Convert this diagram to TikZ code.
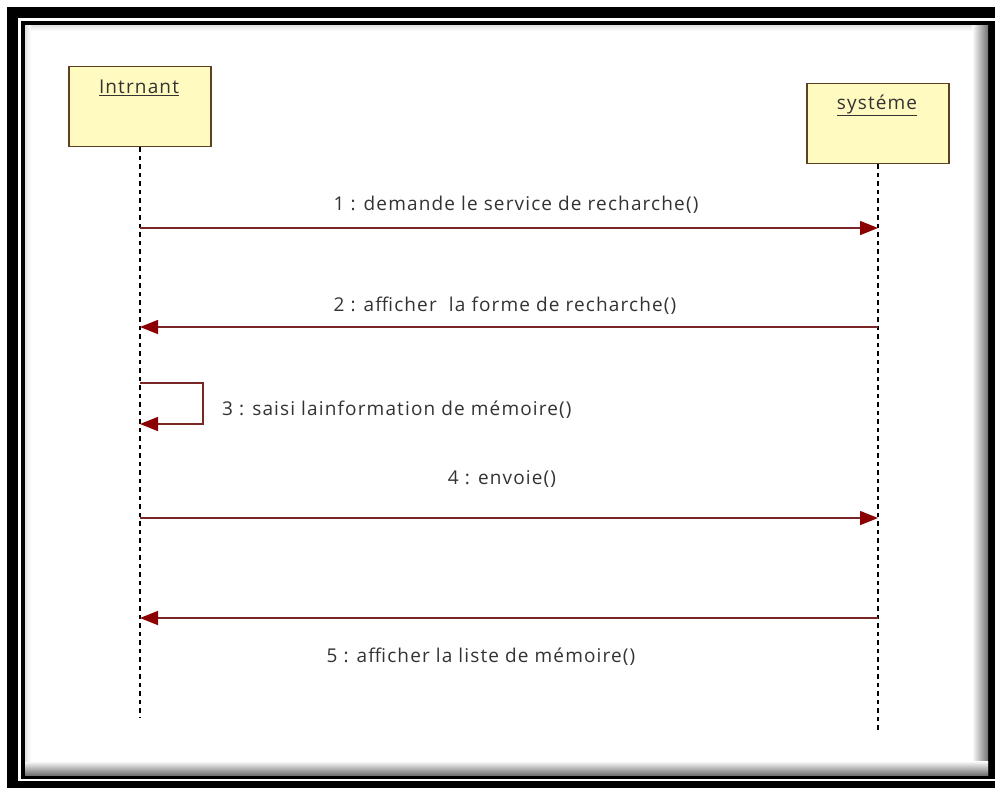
\documentclass[tikz,border=0pt]{standalone}
\usepackage{fontspec}
\setmainfont{Open Sans}[LetterSpace=6]
\usetikzlibrary{arrows.meta}
\definecolor{boxfill}{RGB}{255,250,192}
\definecolor{boxline}{RGB}{92,64,32}
\definecolor{msgline}{RGB}{122,38,38}
\definecolor{msghead}{RGB}{139,0,0}
\definecolor{txt}{RGB}{51,51,51}
\tikzset{
  actor/.style={draw=boxline, line width=1.4pt, fill=boxfill, minimum width=142pt,
    minimum height=80pt, anchor=north, inner sep=0pt},
  actorname/.style={font=\fontsize{19}{22}\selectfont, text=txt, anchor=center},
  lifeline/.style={draw=black, line width=1.3pt, dash pattern=on 4.5pt off 4pt},
  msg/.style={draw=msgline, line width=1.5pt,
    -{Triangle[length=18pt,width=14pt,fill=msghead,color=msghead]}},
  msglabel/.style={font=\fontsize{19}{22}\selectfont, text=txt, inner sep=0pt}
}
\begin{document}
\begin{tikzpicture}[x=1pt,y=-1pt]
% page and double frame
\fill[white] (0,0) rectangle (995,788);
\useasboundingbox (0,0) rectangle (995,788);
\fill[black] (7,7) rectangle (995,788);
\fill[white] (18,18) rectangle (995,781);
\fill[black] (21,21) rectangle (995,779);
\fill[white] (25,25) rectangle (988,775);
% soft inner shadows
\shade[left color=white, right color=black!55] (972,25) rectangle (988,775);
\shade[top color=white, bottom color=black!55] (25,761) rectangle (988,775);
\shade[top color=black!12, bottom color=white] (25,25) rectangle (972,31);
\shade[left color=black!12, right color=white] (25,25) rectangle (31,761);

% participants
\node[actor] (A) at (140,66) {};
\node[actorname] (Alab) at (139,88) {\underline{Intrnant}};
\node[actor] (B) at (878,83) {};
\node[actorname] (Blab) at (877,105) {\underline{systéme}};

% lifeline ends and message anchor points
\coordinate (Aend) at (140,717);
\coordinate (Bend) at (878,733);
\draw[lifeline] (A.south) -- (Aend);
\draw[lifeline] (B.south) -- (Bend);

\coordinate (a1) at (140,228); \coordinate (b1) at (878,228);
\coordinate (a2) at (140,327); \coordinate (b2) at (878,327);
\coordinate (a3) at (140,383); \coordinate (c3) at (203,383);
\coordinate (d3) at (203,424); \coordinate (e3) at (140,424);
\coordinate (a4) at (140,518); \coordinate (b4) at (878,518);
\coordinate (a5) at (140,618); \coordinate (b5) at (878,618);

% messages
\draw[msg] (a1) -- (b1);
\node[msglabel] (m1) at (516,205) {1 : demande le service de recharche()};
\draw[msg] (b2) -- (a2);
\node[msglabel] (m2) at (505,306) {2 : afficher\ \ la forme de recharche()};
\draw[msg] (a3) -- (c3) -- (d3) -- (e3);
\node[msglabel, anchor=west] (m3) at (222,410) {3 : saisi lainformation de mémoire()};
\draw[msg] (a4) -- (b4);
\node[msglabel] (m4) at (502,479) {4 : envoie()};
\draw[msg] (b5) -- (a5);
\node[msglabel] (m5) at (481,657) {5 : afficher la liste de mémoire()};
\end{tikzpicture}
\end{document}
